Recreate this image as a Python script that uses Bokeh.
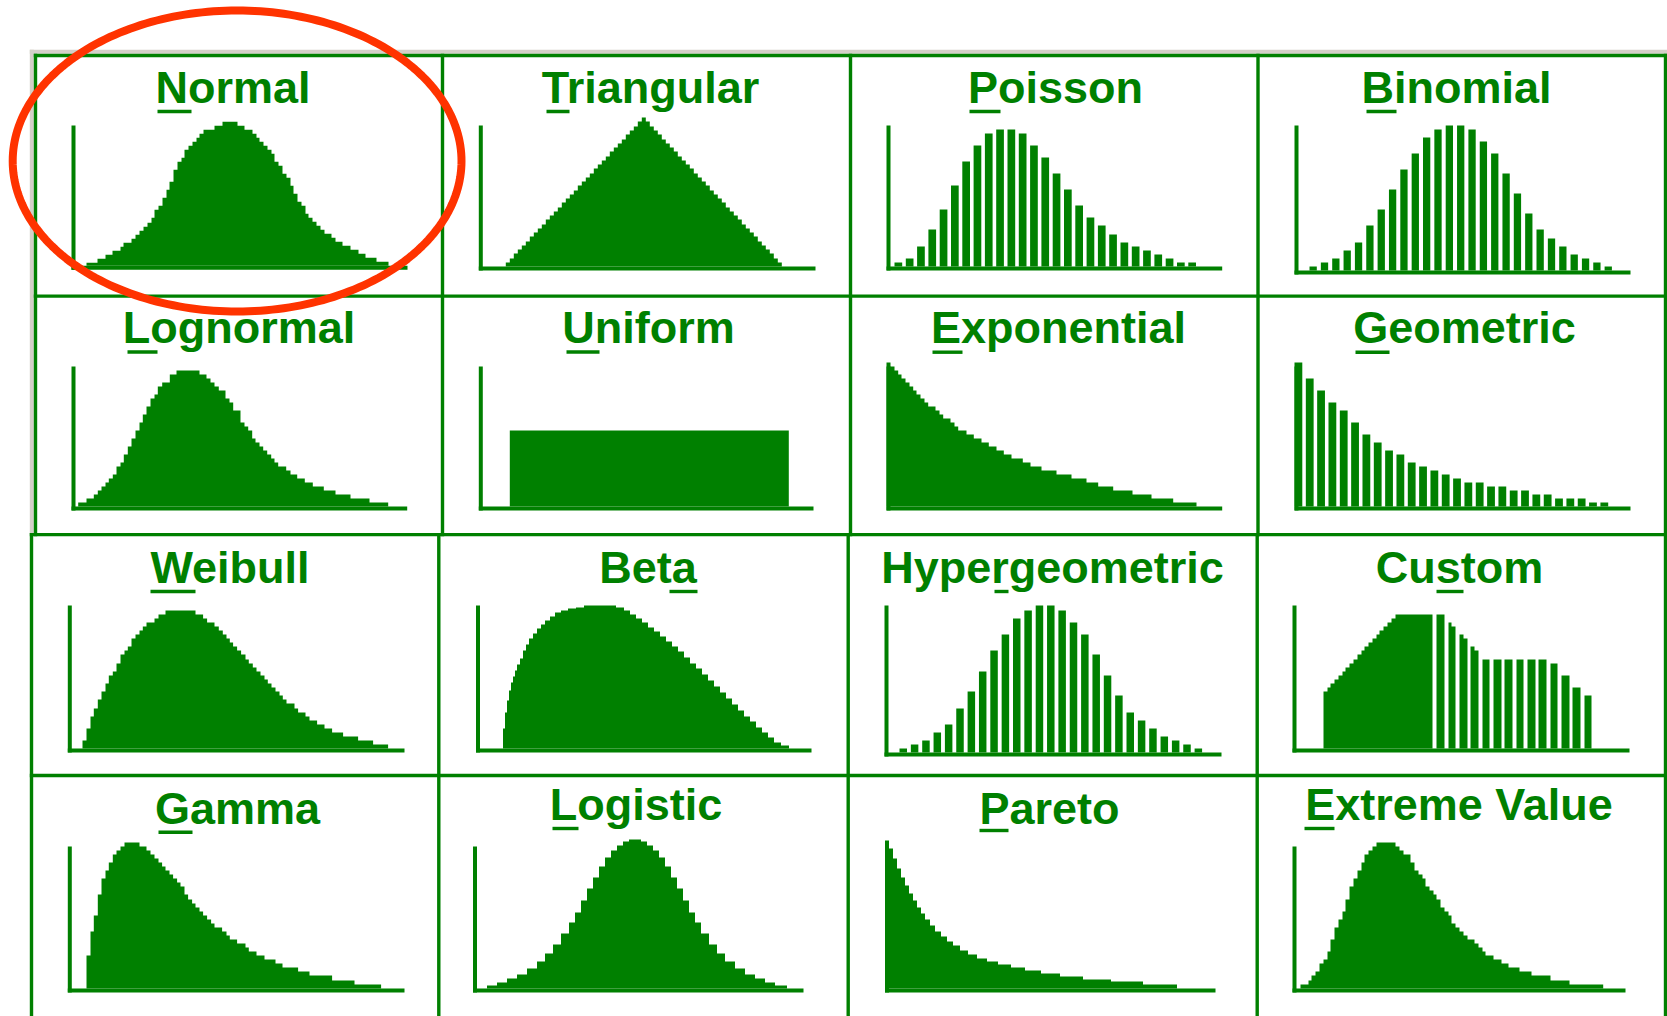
import numpy as np
from bokeh.plotting import figure
from bokeh.models import Range1d
from bokeh.embed import file_html
from bokeh.resources import INLINE
from bokeh.core.properties import value

# ---------------------------------------------------------------- data
titles = ["Normal", "Triangular", "Poisson", "Binomial",
          "Lognormal", "Uniform", "Exponential", "Geometric",
          "Weibull", "Beta", "Hypergeometric", "Custom",
          "Gamma", "Logistic", "Pareto", "Extreme Value"]

# continuous distributions: bin edges and bin heights
normal_edges = [15, 26, 34, 41, 49, 52, 60, 64, 68, 72, 76, 80, 83, 87, 91, 95, 98, 102, 106, 110,
                113, 117, 121, 125, 128, 132, 143, 151, 166, 173, 181, 185, 188, 192, 196, 200, 203,
                207, 211, 215, 219, 222, 226, 230, 234, 237, 241, 245, 249, 253, 260, 264, 271, 279,
                287, 294, 305, 317]
normal_heights = [3, 7, 11, 15, 19, 23, 27, 31, 35, 39, 43, 48, 56, 60, 68, 76, 84, 96, 104, 108,
                  116, 120, 124, 128, 132, 136, 140, 144, 140, 136, 132, 128, 124, 120, 116, 112,
                  104, 100, 92, 88, 80, 72, 64, 60, 52, 48, 44, 40, 36, 32, 28, 24, 20, 16, 12, 8, 4]

triangular_heights = [4, 8, 13, 17, 21, 25, 30, 34, 38, 42, 47, 51, 55, 59, 64, 68, 72, 76, 81, 85,
                      89, 93, 98, 102, 106, 110, 115, 119, 123, 127, 132, 136, 140, 145, 149, 145,
                      140, 136, 132, 127, 123, 119, 115, 110, 106, 102, 98, 93, 89, 85, 81, 76, 72,
                      68, 64, 59, 55, 51, 47, 42, 38, 34, 30, 25, 21, 17, 13, 8, 4]

lognormal_edges = [6.7, 15, 22.3, 26.3, 30, 34, 37.3, 41.3, 45, 49, 52.3, 56.3, 60, 64, 68, 71.3, 75,
                   79, 83, 86.3, 90.7, 98.3, 105, 128, 135, 139, 143, 147.3, 154, 158, 161.7, 169,
                   173, 176.7, 180.7, 184, 188, 191.7, 195.7, 199.7, 203, 206.7, 214.7, 219, 225.7,
                   233.3, 241.3, 252.3, 264, 279, 298, 316.7]
lognormal_heights = [4, 8, 12, 16, 20, 24, 28, 32, 40, 44, 52, 60, 68, 76, 84, 92, 100, 108, 112, 120,
                     124, 132, 136, 132, 128, 124, 120, 116, 108, 104, 96, 84, 80, 76, 68, 64, 60, 56,
                     52, 48, 44, 40, 36, 32, 28, 24, 20, 16, 12, 8, 4]

uniform_edges = [31, 310]
uniform_heights = [76]

exponential_edges = [0, 4, 8, 11.7, 15, 19, 23, 26.7, 30, 34, 38, 41.7, 49, 53, 56.7, 64, 68, 71.7,
                     80, 87.3, 95, 102.3, 110, 117.3, 125, 136.3, 144, 155, 170, 185, 200, 211.7,
                     226.7, 246, 265, 286.7, 310]
exponential_heights = [144, 140, 136, 132, 128, 124, 120, 116, 112, 108, 104, 100, 96, 92, 88, 84, 80,
                       76, 72, 68, 64, 60, 56, 52, 48, 44, 40, 36, 32, 28, 24, 20, 16, 12, 8, 4]

weibull_edges = [14.7, 18.7, 22.7, 26, 30, 33.7, 37.7, 41, 45, 48.7, 52.7, 56.7, 60, 63.7, 67.7, 71.7,
                 75, 78.7, 86.7, 90.7, 97.7, 127.7, 135.3, 139.3, 146.7, 151, 155, 158.7, 162, 165.3,
                 169.3, 173.3, 177.7, 181, 185, 188.7, 192.7, 196.7, 200, 203.7, 207.7, 211.7, 215,
                 218.7, 226.7, 230.3, 237.7, 241.7, 249.3, 256.7, 264.3, 275.3, 290.3, 305.3, 320.3]
weibull_heights = [8, 20, 32, 40, 49, 57, 65, 73, 77, 85, 94, 98, 102, 110, 114, 118, 122, 126, 130,
                   134, 138, 134, 130, 126, 122, 118, 114, 110, 106, 102, 98, 94, 89, 85, 81, 77, 73,
                   69, 65, 61, 57, 53, 49, 45, 40, 36, 32, 28, 24, 20, 16, 12, 8, 4]

beta_edges = [27, 29, 31, 33, 35, 37, 39, 41, 44, 47, 50, 53, 57, 61, 65, 69, 74, 79, 85, 92, 100,
              108, 140, 148, 154, 160, 166, 172, 178, 184, 190, 196, 202, 208, 214, 220, 226, 232,
              238, 244, 250, 256, 262, 268, 274, 280, 286, 292, 298, 305, 313]
beta_heights = [20, 36, 48, 58, 66, 72, 78, 84, 90, 98, 104, 110, 115, 120, 124, 128, 132, 136, 138,
                140, 141, 143, 141, 138, 134, 130, 126, 121, 117, 112, 107, 102, 97, 91, 85, 80, 74,
                68, 62, 56, 50, 44, 38, 32, 27, 21, 16, 11, 6, 3]

custom_edges = [31, 35, 38, 42, 46, 50, 53, 57, 61, 65, 69, 72, 76, 80, 84, 87, 91, 95, 99, 103, 140,
                144, 152, 156, 159, 163, 167, 171, 175, 178, 182, 186, 190, 197, 201, 209, 212, 220,
                224, 231, 235, 243, 246, 254, 258, 265, 269, 277, 280, 288, 292, 299]
custom_heights = [57, 61, 65, 69, 73, 77, 81, 85, 89, 94, 98, 102, 106, 110, 114, 118, 122, 126, 130,
                  134, 0, 134, 0, 126, 122, 0, 114, 110, 0, 102, 98, 0, 89, 0, 89, 0, 89, 0, 89, 0,
                  89, 0, 89, 0, 85, 0, 73, 0, 61, 0, 53]

gamma_edges = [18.7, 22.7, 26, 30, 33.7, 37.7, 41, 45, 48.7, 52.7, 56.7, 71.7, 78.7, 82.7, 86.7, 90.7,
               94.3, 97.7, 101.7, 105.3, 109.3, 112.7, 116.7, 120.3, 124.3, 127.7, 131.7, 135.3,
               139.3, 143.3, 146.7, 154.3, 158.7, 162, 169.3, 177.7, 181, 188.7, 196.7, 207.7, 214.7,
               230.3, 241.7, 264.3, 286.7, 313.3]
gamma_heights = [33, 57, 73, 94, 110, 118, 126, 134, 138, 142, 146, 142, 138, 134, 130, 126, 122, 118,
                 114, 110, 106, 102, 94, 89, 85, 81, 77, 73, 69, 65, 61, 57, 53, 49, 45, 41, 37, 33,
                 29, 25, 21, 17, 13, 8, 4]

logistic_edges = [14, 24, 34, 44, 54, 64, 72, 80, 88, 96, 102, 108, 114, 120, 126, 132, 138, 144,
                  150, 156, 168, 174, 180, 186, 192, 198, 204, 210, 216, 222, 228, 236, 244, 252,
                  262, 272, 282, 292, 302, 314]
logistic_heights = [3, 6, 10, 14, 20, 27, 35, 44, 55, 66, 76, 88, 100, 111, 122, 131, 138, 143, 147,
                    149, 147, 143, 138, 131, 122, 111, 100, 88, 76, 66, 55, 44, 35, 27, 20, 14, 10,
                    6, 3]

pareto_edges = [0, 4, 8, 12, 16, 20, 24, 28, 32, 36, 40, 45, 50, 56, 62, 68, 75, 83, 92, 102, 113,
                126, 140, 156, 175, 198, 226, 258, 292]
pareto_heights = [148, 140, 130, 120, 111, 103, 95, 88, 81, 75, 69, 63, 57, 52, 47, 43, 38, 34, 30,
                  27, 24, 21, 18, 15, 12, 9, 7, 4]

extreme_edges = [8, 16, 19, 23, 27, 31, 35, 38, 42, 46, 50, 53, 57, 61, 65, 69, 72, 76, 80, 84, 103,
                 107, 111, 118, 122, 126, 130, 133, 137, 141, 144, 148, 152, 156, 159, 163, 167, 171,
                 175, 182, 186, 190, 193, 201, 209, 216, 227, 239, 258, 277, 310.7]
extreme_heights = [4, 8, 13, 17, 25, 29, 37, 49, 61, 69, 77, 89, 102, 110, 118, 126, 134, 138, 142,
                   146, 142, 138, 134, 126, 118, 114, 110, 102, 98, 94, 89, 81, 77, 73, 65, 61, 57,
                   53, 49, 45, 41, 37, 33, 29, 25, 21, 17, 13, 8, 4]

# discrete distributions: one value per outcome
poisson_counts = [4, 8, 20, 37, 57, 81, 105, 121, 133, 137, 137, 133, 121, 109, 93, 77, 61, 49, 41,
                  32, 24, 20, 16, 12, 8, 4, 4]
binomial_counts = [4, 8, 12, 20, 28, 45, 61, 81, 101, 117, 133, 141, 145, 145, 141, 129, 117, 97, 77,
                   57, 41, 32, 24, 16, 12, 8, 4]
geometric_counts = [144, 128, 116, 104, 96, 84, 72, 64, 56, 52, 44, 40, 36, 32, 28, 24, 24, 20, 20,
                    16, 16, 12, 12, 8, 8, 8, 4, 4]
hypergeometric_counts = [4, 8, 12, 20, 28, 44, 61, 81, 102, 118, 134, 142, 147, 147, 142, 130, 118,
                         98, 77, 57, 40, 32, 24, 16, 12, 8, 4]

# ---------------------------------------------------------------- layout (reference pixels)
GREEN = "#008000"
GREY = "#d4d0c8"
RED = "#ff3300"
FW, FH = 1667, 1016
OX, OY = 0, 0
TITLE_SIZE = 45
TITLE_SHIFT = 0.4 * TITLE_SIZE


def yy(Y):
    return OY + FH - Y


# panel: (axis left x, baseline top y, axis top y, baseline right end x)
panel_frame = [
    (71, 265.3, 125, 407), (478.3, 266, 125, 815), (886, 266, 125, 1221.7), (1294, 270, 125, 1630),
    (71, 506, 366, 406.7), (478.3, 506, 366, 813), (886, 506, 366, 1221.7), (1294, 506, 366, 1630),
    (67.3, 748, 605, 404), (475.5, 748, 605, 811), (884, 752, 605, 1221), (1292, 748, 605, 1629),
    (67.3, 988, 846, 404), (472.5, 988, 846, 803), (884.5, 988, 846, 1215), (1292, 988, 846, 1625),
]
title_x = [232.5, 650, 1055, 1456, 238.5, 648, 1058, 1464, 229.5, 647.5, 1052, 1459, 237, 635.5, 1049, 1458.5]
title_base = [105, 105, 105, 105, 345, 345, 345, 345, 585, 585, 585, 585, 826, 822, 826, 822]
ul_x0 = [157, 546, 969, 1366, 127, 566, 932, 1355, 150, 669, 994, 1436, 158, 552, 979, 1304]
ul_x1 = [191, 569, 1000, 1396, 157, 599, 962, 1389, 195, 697, 1008, 1463, 192, 578, 1008, 1334]
ul_y = [111, 111, 111, 111, 351.5, 351.5, 351.7, 351.7, 591, 591, 591, 591, 831.7, 828, 830, 828]

p = figure(width=FW, height=FH, x_range=Range1d(OX, OX + FW), y_range=Range1d(0, FH),
           output_backend="svg", toolbar_location=None, min_border=0,
           x_axis_location=None, y_axis_location=None)
p.grid.visible = False
p.outline_line_color = None
p.background_fill_color = "white"
p.border_fill_color = "white"


def block(x0, x1, y0, y1, color):
    p.quad(left=[x0], right=[x1], top=[yy(y0)], bottom=[yy(y1)], fill_color=color,
           line_color=None)


# ----- grid frame
block(29.3, 1667, 49.3, 53.3, GREY)
block(29.3, 33.3, 49.3, 534, GREY)
for (y0, y1, x0) in [(53.3, 56.7, 33.3), (294, 297.3, 33.3), (532.5, 535.8, 29.3), (773.3, 776.7, 29.3)]:
    block(x0, 1667, y0, y1, GREEN)
for xc in [35, 442, 850, 1257.5]:
    block(xc - 1.7, xc + 1.7, 53.3, 535.8, GREEN)
for xc in [31, 438.3, 847.7, 1256.7]:
    block(xc - 1.7, xc + 1.7, 532.5, 1016, GREEN)
block(1663.3, 1666.7, 53.3, 1016, GREEN)

# ----- one pair of ranges (its own scale) per panel
xr, yr = {}, {}


def add_ranges(name, x0, y0, sx=1.0, sy=1.0):
    xr[name] = Range1d((OX - x0) / sx, (OX + FW - x0) / sx)
    yr[name] = Range1d((y0 - (OY + FH)) / sy, (y0 - OY) / sy)


step_panels = {
    0: (normal_edges, normal_heights),
    1: (list(27 + 4 * np.arange(len(triangular_heights) + 1)), triangular_heights),
    4: (lognormal_edges, lognormal_heights),
    5: (uniform_edges, uniform_heights),
    6: (exponential_edges, exponential_heights),
    8: (weibull_edges, weibull_heights),
    9: (beta_edges, beta_heights),
    11: (custom_edges, custom_heights),
    12: (gamma_edges, gamma_heights),
    13: (logistic_edges, logistic_heights),
    14: (pareto_edges, pareto_heights),
    15: (extreme_edges, extreme_heights),
}
# bar panels: (values, first bar centre offset from axis, pitch px, bar width px)
bar_panels = {
    2: (poisson_counts, 11.85, 11.3, 7.7),
    3: (binomial_counts, 18.65, 11.35, 7.3),
    7: (geometric_counts, 3.9, 11.33, 7.8),
    10: (hypergeometric_counts, 18.75, 11.35, 7.5),
}

for i, (ax, by, ty, ex) in enumerate(panel_frame):
    name = "panel%d" % i
    if i in step_panels:
        add_ranges(name, ax, by)
    else:
        vals, c0, pitch, bw = bar_panels[i]
        add_ranges(name, ax + c0, by, sx=pitch)
p.extra_x_ranges = xr
p.extra_y_ranges = yr

for i, (ax, by, ty, ex) in enumerate(panel_frame):
    name = "panel%d" % i
    block(ax, ax + 4, ty, by + 4, GREEN)
    block(ax, ex, by, by + 4, GREEN)
    if i in step_panels:
        edges, heights = step_panels[i]
        xs, ys = [edges[0]], [0]
        for k, h in enumerate(heights):
            xs += [edges[k], edges[k + 1]]
            ys += [h, h]
        xs.append(edges[-1])
        ys.append(0)
        p.patch(xs, ys, fill_color=GREEN, line_color=None,
                x_range_name=name, y_range_name=name)
    else:
        vals, c0, pitch, bw = bar_panels[i]
        p.vbar(x=list(range(len(vals))), top=vals, bottom=0, width=bw / pitch,
               fill_color=GREEN, line_color=None, x_range_name=name, y_range_name=name)

# ----- titles with the underlined mnemonic letter
p.text(x=title_x, y=[yy(b - TITLE_SHIFT) for b in title_base], text=titles, text_align="center",
       text_baseline="alphabetic", text_font=value("Liberation Sans"),
       text_font_style="bold", text_font_size="%dpx" % TITLE_SIZE, text_color=GREEN)
p.quad(left=ul_x0, right=ul_x1, top=[yy(u - 1.7) for u in ul_y], bottom=[yy(u + 1.7) for u in ul_y],
       fill_color=GREEN, line_color=None)

# ----- highlight ellipse around the first panel
t = np.linspace(0, 2 * np.pi, 241)
ecx, ecy, erx, ery = 236.6, 160.5, 224.4, 150.5
p.line(ecx + erx * np.cos(t), [yy(ecy + ery * s) for s in np.sin(t)], line_color=RED,
       line_width=8, line_join="round")

open("out.html", "w").write(file_html(p, INLINE))
